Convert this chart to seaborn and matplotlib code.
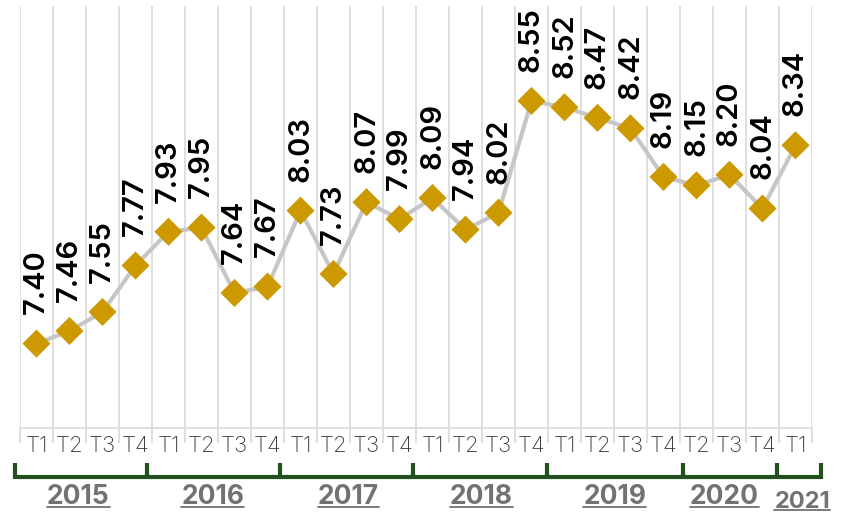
#!/usr/bin/env python3
import matplotlib
matplotlib.use("Agg")
import matplotlib.pyplot as plt
import matplotlib.transforms as mtransforms
from matplotlib.lines import Line2D
import seaborn as sns

# Datos
years = ["2015", "2016", "2017", "2018", "2019", "2020", "2021"]
quarters = ["T1", "T2", "T3", "T4", "T1", "T2", "T3", "T4",
            "T1", "T2", "T3", "T4", "T1", "T2", "T3", "T4",
            "T1", "T2", "T3", "T4", "T2", "T3", "T4", "T1"]
values = [7.40, 7.46, 7.55, 7.77, 7.93, 7.95, 7.64, 7.67,
          8.03, 7.73, 8.07, 7.99, 8.09, 7.94, 8.02, 8.55,
          8.52, 8.47, 8.42, 8.19, 8.15, 8.20, 8.04, 8.34]

# Layout (bracket ends and label centres along x, in category units)
bracket_edges = [-0.65, 3.35, 7.38, 11.42, 15.47, 19.6, 22.44, 23.77]
year_centres = [1.27, 5.34, 9.45, 13.47, 17.53, 20.85, 23.2]

GOLD = "#CC9900"
LINE_GRAY = "#C6C6C6"
GRID = "#D9D9D9"
GREEN = "#22501C"
YEAR_GRAY = "#767171"

sns.set_theme(style="white")
plt.rcParams["font.family"] = ["Inter", "DejaVu Sans"]

x = list(range(len(values)))

fig = plt.figure(figsize=(8.44, 5.16), dpi=100)
ax = fig.add_axes([20 / 844, 1 - 428 / 516, 792 / 844, 422 / 516])

sns.lineplot(x=x, y=values, ax=ax, color=LINE_GRAY, linewidth=3, zorder=2)
sns.scatterplot(x=x, y=values, ax=ax, marker="D", s=205, color=GOLD,
                edgecolor="none", zorder=3)

for xi, v in zip(x, values):
    ax.annotate(f"{v:.2f}", (xi, v), xytext=(0, 21), textcoords="offset points",
                rotation=90, ha="center", va="bottom", fontsize=21,
                fontweight="semibold", color="black")

ax.set_xlim(-0.5, len(values) - 0.5)
ax.set_ylim(7.0, 9.0)
ax.set_yticks([])
ax.set_xticks(x)
ax.set_xticklabels(quarters, fontsize=16, color="#404040", fontweight="light")
ax.set_xticks([i - 0.5 for i in range(len(values) + 1)], minor=True)
ax.tick_params(axis="x", which="major", length=0, pad=6)
ax.tick_params(axis="x", which="minor", length=11, width=1.2, color=GRID,
               direction="out", bottom=True)
ax.grid(which="minor", axis="x", color=GRID, linewidth=1.2)
ax.grid(which="major", axis="both", visible=False)
for side in ["top", "left", "right"]:
    ax.spines[side].set_visible(False)
ax.spines["bottom"].set_color(GRID)
ax.spines["bottom"].set_linewidth(1.2)
ax.set_xlabel("")
ax.set_ylabel("")

# Corchetes de año
trans = mtransforms.blended_transform_factory(ax.transData, fig.transFigure)
y_line = 1 - 477 / 516
y_tick = 1 - 463 / 516
fig.add_artist(Line2D([bracket_edges[0], bracket_edges[-1]], [y_line, y_line],
                      transform=trans, color=GREEN, linewidth=3,
                      solid_capstyle="butt"))
for bx in bracket_edges:
    fig.add_artist(Line2D([bx, bx], [y_line - 0.003, y_tick], transform=trans,
                          color=GREEN, linewidth=3, solid_capstyle="butt"))

year_texts = []
for yr, xc in zip(years, year_centres):
    size = 17 if yr == "2021" else 19
    ypos = 1 - (502 if yr == "2021" else 497) / 516
    t = fig.text(xc, ypos, yr, transform=trans, ha="center", va="center",
                 fontsize=size, fontweight="bold", color=YEAR_GRAY)
    year_texts.append(t)

# Subrayado
fig.canvas.draw()
renderer = fig.canvas.get_renderer()
for t in year_texts:
    bb = t.get_window_extent(renderer)
    yb = bb.y0 + 3
    fig.add_artist(Line2D([bb.x0, bb.x1], [yb, yb], transform=None,
                          color=YEAR_GRAY, linewidth=1.3))

fig.savefig("out.png", dpi=100)
